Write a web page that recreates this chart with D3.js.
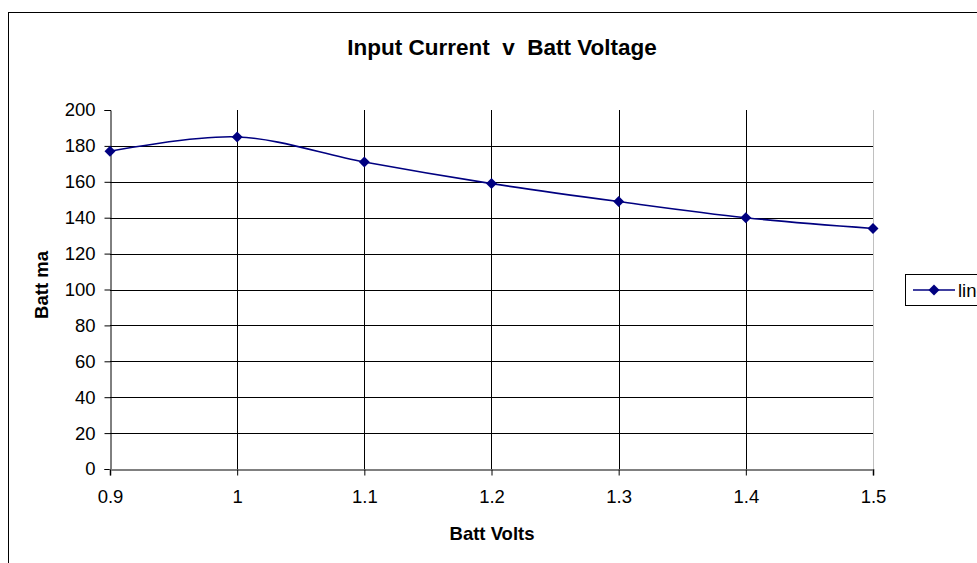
<!DOCTYPE html>
<html><head><meta charset="utf-8">
<script src="https://cdn.jsdelivr.net/npm/d3@7"></script>
<style>body{margin:0;background:#fff;}svg{display:block;font-family:"Liberation Sans",Arial,sans-serif;}</style>
</head><body>
<svg id="c" width="977" height="563"></svg>
<script>
const voltsX = [0.9, 1.0, 1.1, 1.2, 1.3, 1.4, 1.5];
const battMa = [177, 185, 171, 159, 149, 140, 134];
const xTicks = [0.9, 1.0, 1.1, 1.2, 1.3, 1.4, 1.5];
const yTicks = [0, 20, 40, 60, 80, 100, 120, 140, 160, 180, 200];
const seriesName = "line";

const svg = d3.select("#c");
const L = 110, R = 873, T = 110, B = 469;
const x = d3.scaleLinear().domain([0.9, 1.5]).range([L, R]);
const y = d3.scaleLinear().domain([0, 200]).range([B, T]);

// outer chart border
svg.append("rect").attr("x", 8.5).attr("y", 12.5).attr("width", 1100).attr("height", 600)
  .attr("fill", "#fff").attr("stroke", "#000").attr("stroke-width", 1);

// horizontal gridlines
svg.append("g").selectAll("line").data(yTicks.filter(d => d > 0 && d < 200)).join("line")
  .attr("x1", L).attr("x2", R).attr("y1", d => Math.round(y(d)) + 0.5).attr("y2", d => Math.round(y(d)) + 0.5)
  .attr("stroke", "#000").attr("stroke-width", 1);
// vertical gridlines
svg.append("g").selectAll("line").data(xTicks.slice(1, -1)).join("line")
  .attr("x1", d => Math.round(x(d)) + 0.5).attr("x2", d => Math.round(x(d)) + 0.5).attr("y1", T).attr("y2", B)
  .attr("stroke", "#000").attr("stroke-width", 1);
// right plot border
svg.append("line").attr("x1", R + 0.5).attr("x2", R + 0.5).attr("y1", T).attr("y2", B)
  .attr("stroke", "#c0c0c0").attr("stroke-width", 1);

// axes
const yAxis = d3.axisLeft(y).tickValues(yTicks).tickSize(6).tickPadding(9).tickFormat(d3.format("d"));
const gy = svg.append("g").attr("transform", `translate(${L + 0.5},0)`).call(yAxis);
const xAxis = d3.axisBottom(x).tickValues(xTicks).tickSize(6).tickPadding(14).tickFormat(d => d === 1 ? "1" : d3.format(".1f")(d));
const gx = svg.append("g").attr("transform", `translate(0,${B + 0.5})`).call(xAxis);
gy.select(".domain").attr("stroke", "#000");
gx.select(".domain").attr("stroke", "#808080").attr("stroke-width", 2);
[gx, gy].forEach(g => {
  g.attr("font-size", null).attr("font-family", null);
  g.selectAll("text").style("font-size", "18.5px").attr("fill", "#000");
  g.selectAll(".tick line").attr("stroke", "#000");
});

// line
const pts = voltsX.map((v, i) => [v, battMa[i]]);
svg.append("path").datum(pts)
  .attr("d", d3.line().x(d => x(d[0])).y(d => y(d[1])).curve(d3.curveCatmullRom.alpha(0.5)))
  .attr("fill", "none").attr("stroke", "#000080").attr("stroke-width", 1.6);
svg.append("g").selectAll("path").data(pts).join("path")
  .attr("transform", d => `translate(${x(d[0])},${y(d[1])}) rotate(45)`)
  .attr("d", d3.symbol().type(d3.symbolSquare).size(60))
  .attr("fill", "#000080");

// titles
svg.append("text").attr("x", 502).attr("y", 55).attr("text-anchor", "middle")
  .style("font-size", "22.5px").attr("font-weight", "bold").style("white-space", "pre")
  .text("Input Current  v  Batt Voltage");
svg.append("text").attr("x", 492).attr("y", 540).attr("text-anchor", "middle")
  .style("font-size", "18.5px").attr("font-weight", "bold").text("Batt Volts");
svg.append("text").attr("transform", "translate(48,285) rotate(-90)").attr("text-anchor", "middle")
  .style("font-size", "18.5px").attr("font-weight", "bold").text("Batt ma");

// legend
const lg = svg.append("g");
lg.append("rect").attr("x", 905.5).attr("y", 274.5).attr("width", 100).attr("height", 31)
  .attr("fill", "#fff").attr("stroke", "#000");
lg.append("line").attr("x1", 913).attr("x2", 955).attr("y1", 290).attr("y2", 290)
  .attr("stroke", "#000080").attr("stroke-width", 1.6);
lg.append("path").attr("transform", "translate(934,290) rotate(45)")
  .attr("d", d3.symbol().type(d3.symbolSquare).size(60)).attr("fill", "#000080");
lg.append("text").attr("x", 958).attr("y", 297).style("font-size", "18.5px").text(seriesName);
</script>
</body></html>
